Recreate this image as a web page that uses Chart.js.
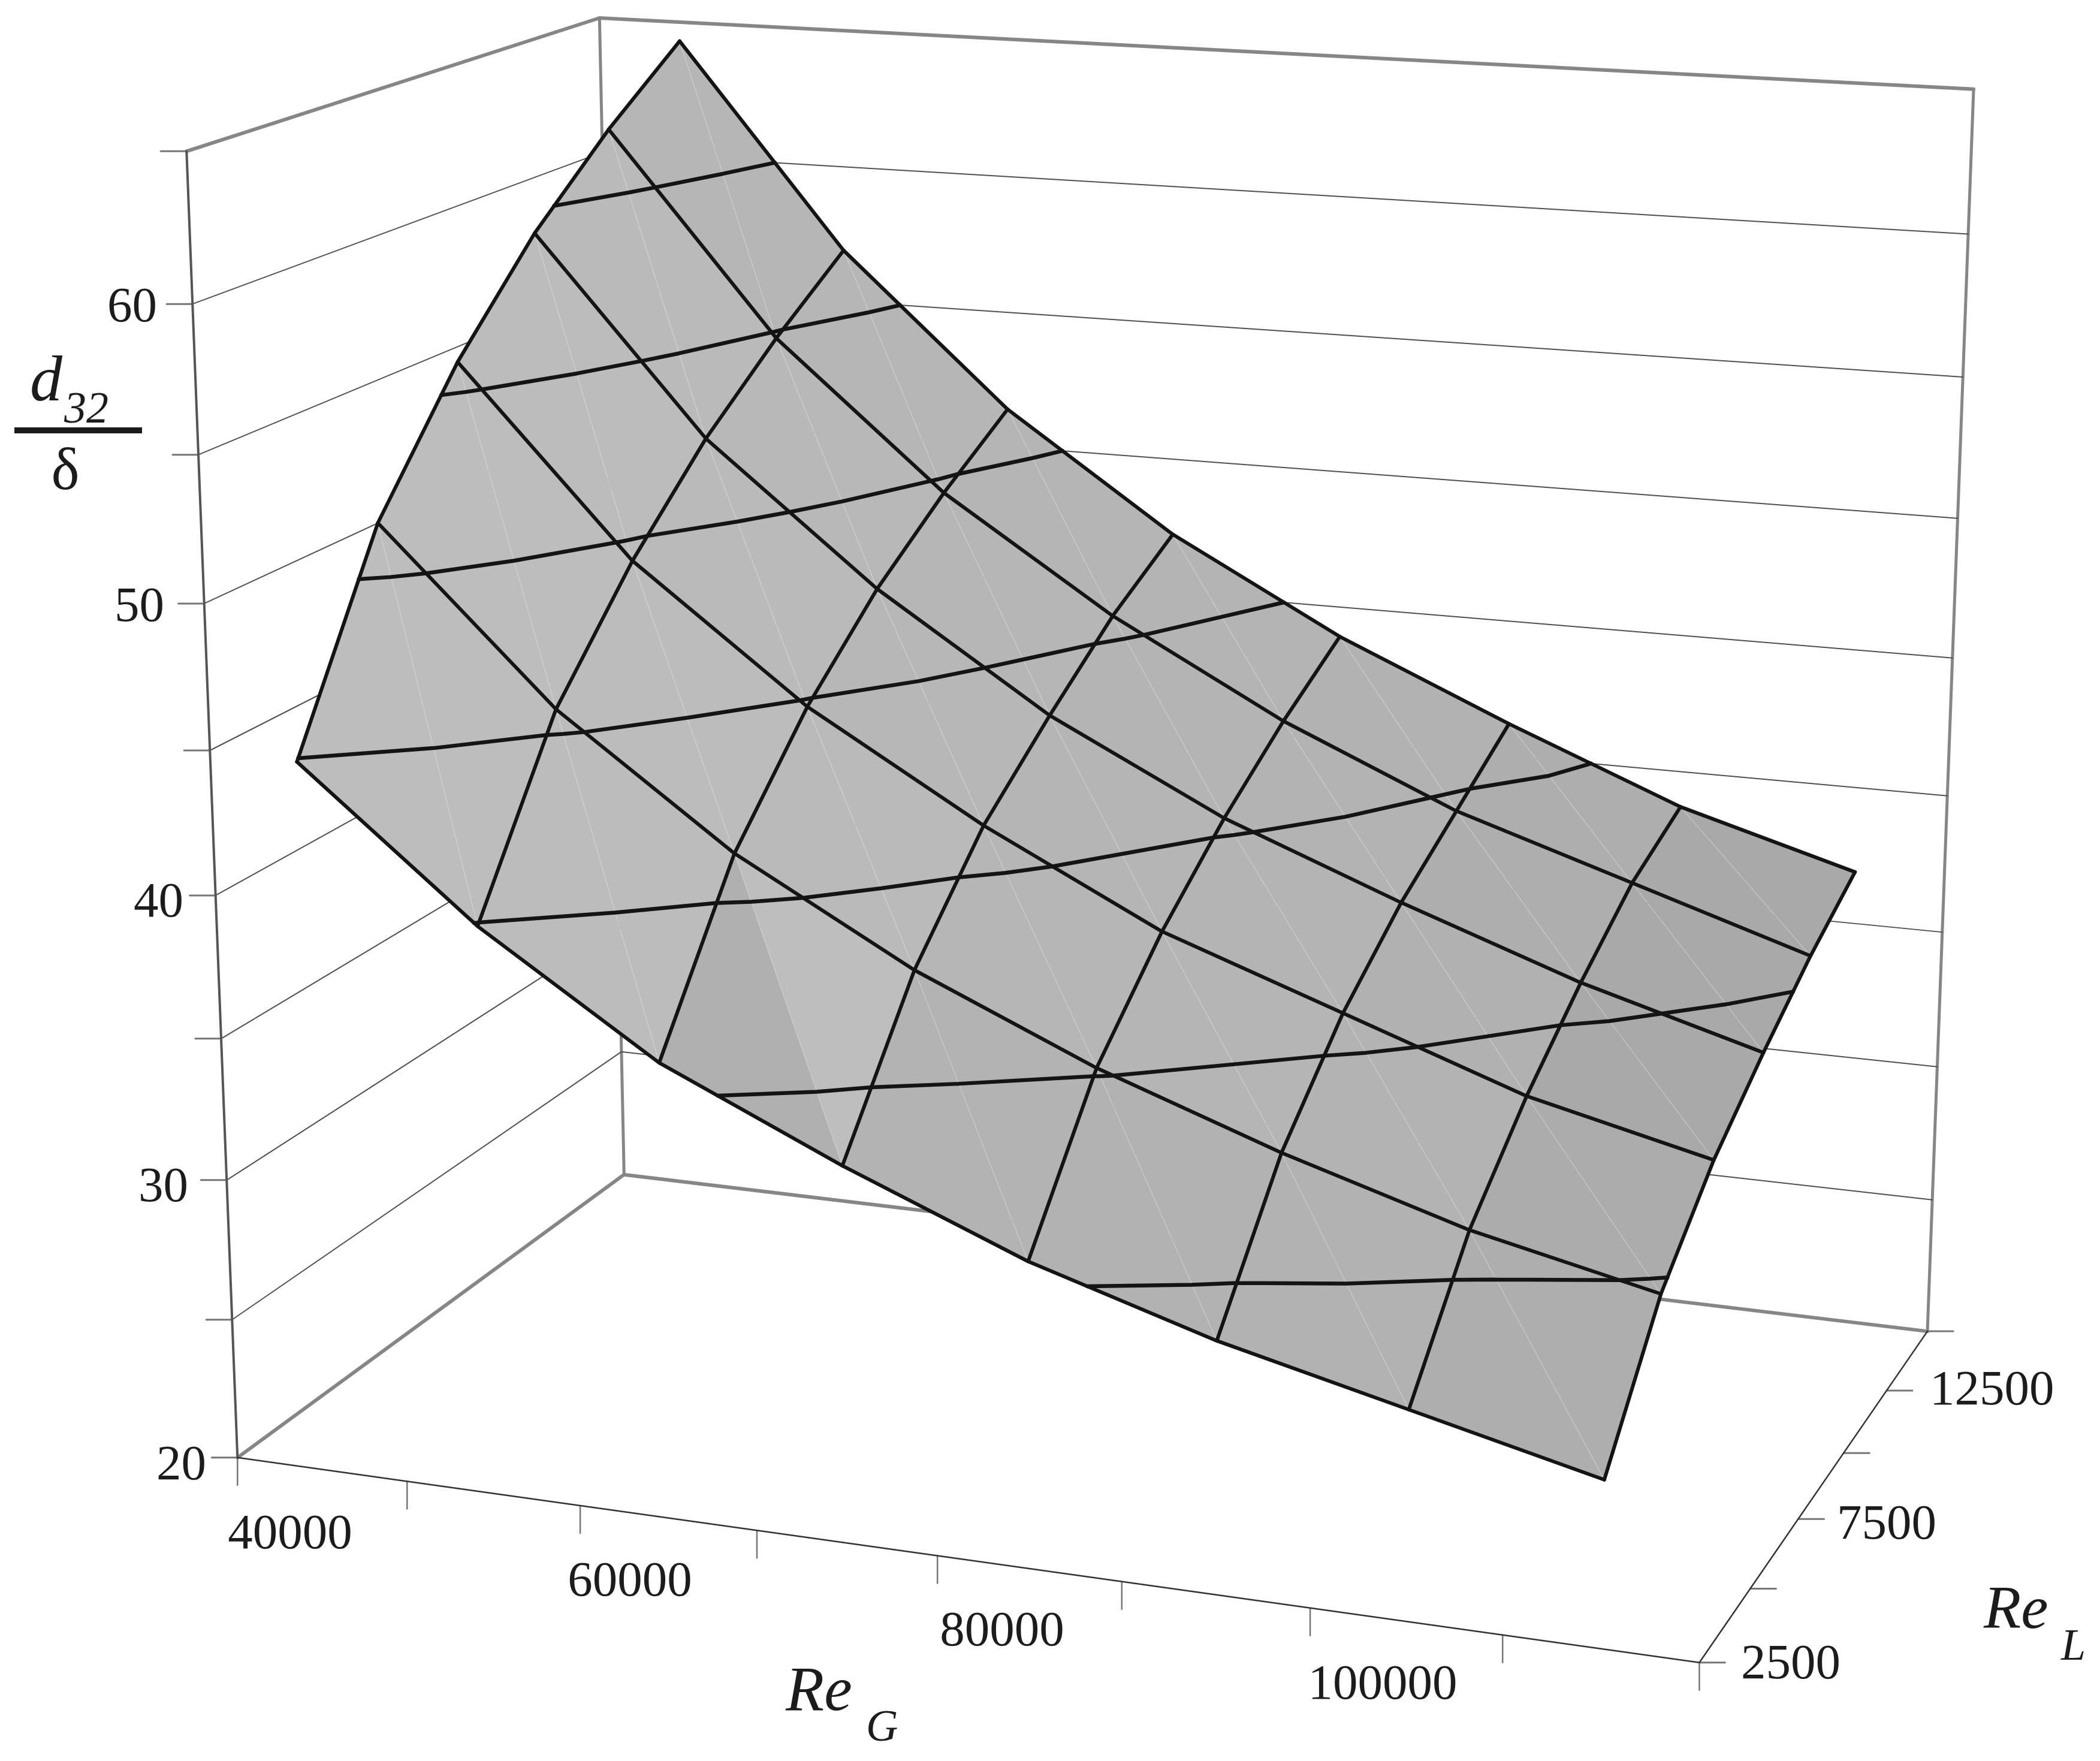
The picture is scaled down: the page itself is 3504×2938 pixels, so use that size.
<!DOCTYPE html>
<html>
<head>
<meta charset="utf-8">
<title>d32 surface</title>
<script src="https://cdn.jsdelivr.net/npm/chart.js@4"></script>
<style>
    body { margin: 0; background: #fff; }
    canvas { display: block; }
</style>
</head>
<body>
<canvas id="myChart" width="3504" height="2938"></canvas>
<script>
// surface values
const reG = [45000, 55000, 65000, 75000, 85000, 95000, 105000, 115000];
const reL = [2500, 5000, 7500, 10000, 12500, 15000];
const d32At2500  = [44.9, 39.9, 35.9, 33.1, 30.6, 28.7, 27.2, 25.7];
const d32At5000  = [51.6, 45.7, 41.3, 37.9, 35.2, 33.0, 31.1, 29.7];
const d32At7500  = [55.9, 49.4, 44.8, 41.2, 38.1, 35.9, 33.7, 32.2];
const d32At10000 = [59.3, 52.4, 47.5, 43.5, 40.4, 38.0, 35.8, 34.0];
const d32At12500 = [62.0, 54.8, 49.6, 45.6, 42.3, 39.6, 37.6, 35.6];
const d32At15000 = [64.3, 56.9, 51.4, 47.2, 43.9, 41.2, 38.7, 36.9];
const surface = [d32At2500, d32At5000, d32At7500, d32At10000, d32At12500, d32At15000];

// box and axes
const reGTicks = [40000, 50000, 60000, 70000, 80000, 90000, 100000, 110000, 120000];
const reLTicks = [2500, 5000, 7500, 10000, 12500, 15000];
const zTicks = [20, 25, 30, 35, 40, 45, 50, 55, 60, 65];
const contourLevels = [30, 35, 40, 45, 50, 55, 60];
const reGLabels = ["40000", "60000", "80000", "100000"];
const reLLabels = ["2500", "7500", "12500"];
const zLabels = ["60", "50", "40", "30", "20"];

// gray of each mesh cell, front row first
const cellGray = [
    [189, 188, 176, 179, 178, 178, 174],
    [189, 188, 186, 182, 181, 179, 172],
    [188, 186, 183, 181, 180, 177, 169],
    [186, 184, 182, 180, 179, 174, 169],
    [182, 182, 181, 180, 178, 174, 169]
];

// where the box corners sit in the picture: [ReG, ReL, d32, px, py]
const boxAnchors = [
    [40000, 2500, 20, 398, 2431],
    [40000, 2500, 65, 308, 254],
    [40000, 15000, 20, 1039, 1960],
    [40000, 15000, 65, 1004, 29],
    [120000, 15000, 20, 3217, 2222],
    [120000, 15000, 65, 3293, 149],
    [120000, 2500, 20, 2837, 2773],
    [120000, 15000, 45, 3257, 1096],
    [120000, 15000, 30, 3231, 1781]
];

const norm = (g, l, z) => [(g - 40000) / 80000, (l - 2500) / 12500, (z - 20) / 45];

const solve = (A, b) => {
    const n = b.length;
    const m = A.map((r, i) => [...r, b[i]]);
    for (let c = 0; c < n; c++) {
        let p = c;
        for (let r = c + 1; r < n; r++) {
            if (Math.abs(m[r][c]) > Math.abs(m[p][c])) p = r;
        }
        [m[c], m[p]] = [m[p], m[c]];
        for (let r = 0; r < n; r++) {
            if (r === c) continue;
            const f = m[r][c] / m[c][c];
            for (let k = c; k <= n; k++) m[r][k] -= f * m[c][k];
        }
    }
    return m.map((r, i) => r[n] / r[i]);
};

// perspective camera, least squares fit on the box corners
const camera = (() => {
    const rows = [], rhs = [];
    boxAnchors.forEach(([g, l, z, X, Y]) => {
        const [u, v, w] = norm(g, l, z);
        rows.push([u, v, w, 1, 0, 0, 0, 0, -X * u, -X * v, -X * w]);
        rhs.push(X);
        rows.push([0, 0, 0, 0, u, v, w, 1, -Y * u, -Y * v, -Y * w]);
        rhs.push(Y);
    });
    const idx = [...Array(11).keys()];
    const AtA = idx.map(i => idx.map(j => rows.reduce((s, r) => s + r[i] * r[j], 0)));
    const Atb = idx.map(i => rows.reduce((s, r, k) => s + r[i] * rhs[k], 0));
    return solve(AtA, Atb);
})();

const project = (g, l, z) => {
    const [u, v, w] = norm(g, l, z);
    const h = camera;
    const d = h[8] * u + h[9] * v + h[10] * w + 1;
    return {
        x: (h[0] * u + h[1] * v + h[2] * w + h[3]) / d,
        y: (h[4] * u + h[5] * v + h[6] * w + h[7]) / d
    };
};

const node = (i, j) => [reG[i], reL[j], surface[j][i]];
const gap = { x: NaN, y: NaN };

// both triangles of a cell, split along the steep diagonal
const cellTriangles = (i, j) => [
    [node(i, j), node(i, j + 1), node(i + 1, j)],
    [node(i, j + 1), node(i + 1, j + 1), node(i + 1, j)]
];

const contourPoints = level => {
    const pts = [];
    for (let j = 0; j < reL.length - 1; j++) {
        for (let i = 0; i < reG.length - 1; i++) {
            cellTriangles(i, j).forEach(tri => {
                const hits = [];
                [[0, 1], [1, 2], [2, 0]].forEach(([a, b]) => {
                    const p = tri[a], q = tri[b];
                    if ((p[2] < level) !== (q[2] < level)) {
                        const t = (level - p[2]) / (q[2] - p[2]);
                        hits.push(project(p[0] + t * (q[0] - p[0]), p[1] + t * (q[1] - p[1]), level));
                    }
                });
                if (hits.length === 2) pts.push(hits[0], hits[1], gap);
            });
        }
    }
    return pts;
};

const line = (data, color, width) => ({
    data: data,
    showLine: true,
    borderColor: color,
    borderWidth: width,
    borderCapStyle: "round",
    borderJoinStyle: "round",
    pointRadius: 0,
    fill: false
});

const patch = (tri, gray) => ({
    data: tri.map(p => project(...p)),
    showLine: true,
    borderWidth: 0,
    borderColor: "transparent",
    backgroundColor: `rgb(${gray},${gray},${gray})`,
    pointRadius: 0,
    fill: "shape"
});

const BLACK = "#141414";
const WALL = "#868686";
const THIN = "#505050";
const TICK = "#767676";

const zMin = 20, zMax = 65;
const gMin = 40000, gMax = 120000, lMin = 2500, lMax = 15000;

const datasets = [];

// first in the list ends up on top
contourLevels.forEach(level => datasets.push(line(contourPoints(level), BLACK, 6.5)));
reL.forEach((l, j) => datasets.push(line(reG.map((g, i) => project(...node(i, j))), BLACK, 6)));
reG.forEach((g, i) => datasets.push(line(reL.map((l, j) => project(...node(i, j))), BLACK, 6)));

// light seams along the diagonals
for (let j = 0; j < reL.length - 1; j++) {
    for (let i = 0; i < reG.length - 1; i++) {
        datasets.push(line([project(...node(i, j + 1)), project(...node(i + 1, j))], "rgba(255,255,255,0.14)", 2));
    }
}

for (let j = 0; j < reL.length - 1; j++) {
    for (let i = 0; i < reG.length - 1; i++) {
        const [left, right] = cellTriangles(i, j);
        const bright = i === 2 && j === 0;
        datasets.push(patch(left, cellGray[j][i]));
        datasets.push(patch(right, bright ? 190 : cellGray[j][i]));
    }
}

// axes in front of the box
datasets.push(line([project(gMin, lMin, zMin), project(gMax, lMin, zMin)], "#333", 2.5));
datasets.push(line([project(gMax, lMin, zMin), project(gMax, lMax, zMin)], "#333", 2.5));
datasets.push(line([project(gMin, lMin, zMin), project(gMin, lMin, zMax)], "#555", 4));

// tick marks are a fixed pixel length off their axis
const tickOffset = (p, dx, dy) => [p, { x: p.x + dx, y: p.y + dy }];
zTicks.forEach(z => datasets.push(line(tickOffset(project(gMin, lMin, z), -43, 0), TICK, 3)));
reGTicks.forEach(g => datasets.push(line(tickOffset(project(g, lMin, zMin), 0, 46), TICK, 2.5)));
reLTicks.forEach(l => datasets.push(line(tickOffset(project(gMax, l, zMin), 43, 0), TICK, 3)));

// wall grid
zTicks.slice(1, -1).forEach(z => {
    datasets.push(line([project(gMin, lMin, z), project(gMin, lMax, z), project(gMax, lMax, z)], THIN, 2));
});

// box edges
datasets.push(line([project(gMin, lMin, zMin), project(gMin, lMax, zMin), project(gMax, lMax, zMin)], WALL, 6));
datasets.push(line([project(gMin, lMin, zMax), project(gMin, lMax, zMax), project(gMax, lMax, zMax)], WALL, 6));
datasets.push(line([project(gMin, lMax, zMin), project(gMin, lMax, zMax)], WALL, 5));
datasets.push(line([project(gMax, lMax, zMin), project(gMax, lMax, zMax)], WALL, 5));

// text spots, same order as the label lists
const zLabelSpots = [[262, 536], [274, 1036], [306, 1529], [314, 2004], [344, 2468]];
const reGLabelSpots = [[484, 2583], [1051, 2662], [1672, 2745], [2307, 2834]];
const reLLabelSpots = [[2905, 2800], [3065, 2567], [3220, 2343]];

const axisText = {
    id: "axisText",
    afterDraw(chart) {
        const { ctx } = chart;
        const put = (text, x, y, font, align) => {
            ctx.font = font;
            ctx.textAlign = align;
            ctx.fillText(text, x, y);
        };
        const tickFont = '83px "Liberation Serif"';
        ctx.save();
        ctx.fillStyle = "#1c1c1c";
        ctx.textBaseline = "alphabetic";

        zLabels.forEach((t, i) => put(t, zLabelSpots[i][0], zLabelSpots[i][1], tickFont, "right"));
        reGLabels.forEach((t, i) => put(t, reGLabelSpots[i][0], reGLabelSpots[i][1], tickFont, "center"));
        reLLabels.forEach((t, i) => put(t, reLLabelSpots[i][0], reLLabelSpots[i][1], tickFont, "left"));

        put("Re", 1311, 2853, 'italic 105px "Liberation Serif"', "left");
        put("G", 1445, 2904, 'italic 74px "Liberation Serif"', "left");
        put("Re", 3310, 2716, 'italic 102px "Liberation Serif"', "left");
        put("L", 3439, 2769, 'italic 74px "Liberation Serif"', "left");

        put("d", 50, 668, 'italic 108px "Liberation Serif"', "left");
        put("32", 107, 705, 'italic 74px "Liberation Serif"', "left");
        ctx.fillRect(24, 713, 213, 10);
        put("δ", 109, 816, '100px "Liberation Serif"', "center");
        ctx.restore();
    }
};

const config = {
    type: "scatter",
    data: { datasets: datasets },
    options: {
        responsive: false,
        animation: false,
        devicePixelRatio: 1,
        events: [],
        layout: { padding: 0 },
        scales: {
            x: { type: "linear", min: 0, max: 3504, display: false },
            y: { type: "linear", min: 0, max: 2938, reverse: true, display: false }
        },
        plugins: {
            legend: { display: false },
            tooltip: { enabled: false }
        }
    },
    plugins: [axisText]
};

const myChart = new Chart(document.getElementById("myChart"), config);
</script>
</body>
</html>
